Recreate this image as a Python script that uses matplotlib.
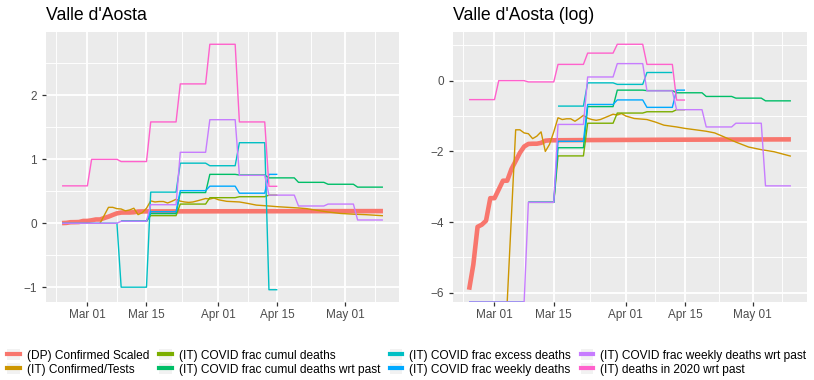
import matplotlib
matplotlib.use('Agg')
import matplotlib.pyplot as plt
import matplotlib.dates as mdates
from matplotlib.lines import Line2D
from matplotlib.patches import Patch
from matplotlib.legend_handler import HandlerTuple
from matplotlib.ticker import MultipleLocator, FixedLocator
import numpy as np
import pandas as pd

plt.rcParams['font.family'] = ['Liberation Sans', 'DejaVu Sans']

labels = ['(DP) Confirmed Scaled', '(IT) Confirmed/Tests',
          '(IT) COVID frac cumul deaths', '(IT) COVID frac cumul deaths wrt past',
          '(IT) COVID frac excess deaths', '(IT) COVID frac weekly deaths',
          '(IT) COVID frac weekly deaths wrt past', '(IT) deaths in 2020 wrt past']
colors = ['#F8766D', '#CD9600', '#7CAE00', '#00BE67',
          '#00BFC4', '#00A9FF', '#C77CFF', '#FF61CC']

# daily series
dp_dates = ['2020-02-24', '2020-02-25', '2020-02-26', '2020-02-27', '2020-02-28',
            '2020-02-29', '2020-03-01', '2020-03-02', '2020-03-03', '2020-03-04',
            '2020-03-05', '2020-03-06', '2020-03-07', '2020-03-08', '2020-03-09',
            '2020-03-10', '2020-03-11', '2020-03-12', '2020-03-13', '2020-03-14',
            '2020-03-21', '2020-04-10', '2020-05-10']
dp_vals = [0.0027, 0.0055, 0.016, 0.017, 0.019, 0.036, 0.036, 0.046, 0.059, 0.059,
           0.082, 0.103, 0.13, 0.155, 0.167, 0.168, 0.168, 0.172, 0.183, 0.185,
           0.186, 0.188, 0.190]

ct_dates = ['2020-03-04', '2020-03-06', '2020-03-07', '2020-03-08', '2020-03-09',
            '2020-03-10', '2020-03-11', '2020-03-12', '2020-03-13', '2020-03-14',
            '2020-03-15', '2020-03-16', '2020-03-17', '2020-03-18', '2020-03-19',
            '2020-03-20', '2020-03-21', '2020-03-22', '2020-03-23', '2020-03-24',
            '2020-03-25', '2020-03-26', '2020-03-27', '2020-03-28', '2020-03-29',
            '2020-03-30', '2020-03-31', '2020-04-01', '2020-04-03', '2020-04-06',
            '2020-04-08', '2020-04-10', '2020-04-13', '2020-04-15', '2020-04-18',
            '2020-04-20', '2020-04-22', '2020-04-24', '2020-04-27', '2020-04-30',
            '2020-05-03', '2020-05-06', '2020-05-10']
ct_vals = [0.0, 0.249, 0.249, 0.228, 0.223, 0.194, 0.208, 0.235, 0.135, 0.165,
           0.235, 0.350, 0.333, 0.340, 0.340, 0.317, 0.343, 0.375, 0.346, 0.333,
           0.326, 0.333, 0.350, 0.368, 0.387, 0.379, 0.395, 0.368, 0.343, 0.333,
           0.310, 0.284, 0.270, 0.259, 0.247, 0.239, 0.228, 0.206, 0.176, 0.153,
           0.142, 0.134, 0.118]

# weekly series (one value per week, weeks start on Monday)
week_starts = pd.to_datetime(['2020-02-24', '2020-03-02', '2020-03-09', '2020-03-16',
                              '2020-03-23', '2020-03-30', '2020-04-06', '2020-04-13',
                              '2020-04-20', '2020-04-27', '2020-05-04'])
end_short = pd.Timestamp('2020-04-15')
end_long = pd.Timestamp('2020-05-10')
nan = np.nan

frac_cumul = [nan, nan, 0.032, 0.119, 0.30, 0.40, 0.415, 0.44]
frac_cumul_past = [nan, nan, 0.032, 0.15, 0.48, 0.765, 0.755, 0.71, 0.64, 0.61, 0.565]
frac_excess = [0.0, 0.0, -1.0, 0.487, 0.94, 0.90, 1.26, -1.04]
frac_weekly = [nan, nan, 0.032, 0.18, 0.51, 0.58, 0.47, 0.765]
frac_weekly_past = [0.0, 0.0, 0.032, 0.29, 1.11, 1.62, 0.75, 0.44, 0.27, 0.30, 0.051]
deaths_2020_past = [0.585, 1.0, 0.965, 1.585, 2.18, 2.80, 1.585, 0.578]


def weekly_path(vals, end):
    xs, ys = [], []
    for start, v in zip(week_starts, vals):
        stop = min(start + pd.Timedelta(days=6), end)
        xs += [start, stop]
        ys += [v, v]
    return pd.to_datetime(xs), np.array(ys, float)


series = [
    (pd.to_datetime(dp_dates), np.array(dp_vals)),
    (pd.to_datetime(ct_dates), np.array(ct_vals)),
    weekly_path(frac_cumul, end_short),
    weekly_path(frac_cumul_past, end_long),
    weekly_path(frac_excess, end_short),
    weekly_path(frac_weekly, end_short),
    weekly_path(frac_weekly_past, end_long),
    weekly_path(deaths_2020_past, end_short),
]

fig = plt.figure(figsize=(8.14, 3.8), dpi=100)
ax1 = fig.add_axes([46 / 814, 78 / 380, 353 / 814, 270 / 380])
ax2 = fig.add_axes([453 / 814, 78 / 380, 354 / 814, 270 / 380])

x0 = pd.Timestamp('2020-02-24')
x1 = end_long
xpad = (x1 - x0) * 0.05
majors = pd.to_datetime(['2020-02-15', '2020-03-01', '2020-03-15', '2020-04-01',
                         '2020-04-15', '2020-05-01', '2020-05-15'])
minors = majors[:-1] + (majors[1:] - majors[:-1]) / 2


def draw(ax, log, title, major_step):
    ys_all = []
    for x, y in series:
        if log:
            with np.errstate(divide='ignore', invalid='ignore'):
                y = np.log(y)
        ys_all.append(y)
    finite = np.concatenate([y[np.isfinite(y)] for y in ys_all])
    lo, hi = finite.min(), finite.max()
    pad = (hi - lo) * 0.05
    lo, hi = lo - pad, hi + pad
    for i, ((x, _), y) in enumerate(zip(series, ys_all)):
        # -Inf (log of 0) sits on the panel edge, as ggplot does
        y = np.where(np.isneginf(y), lo, y)
        ax.plot(x, y, color=colors[i], lw=3.3 if i == 0 else 1.0,
                solid_capstyle='butt', zorder=3 + i)
    ax.set_ylim(lo, hi)
    ax.set_xlim(x0 - xpad, x1 + xpad)
    ax.set_facecolor('#EBEBEB')
    for s in ax.spines.values():
        s.set_visible(False)
    ax.xaxis.set_major_locator(mdates.DayLocator(bymonthday=[1, 15]))
    ax.xaxis.set_major_formatter(mdates.DateFormatter('%b %d'))
    ax.xaxis.set_minor_locator(FixedLocator(mdates.date2num(minors)))
    ax.yaxis.set_major_locator(MultipleLocator(major_step))
    ax.yaxis.set_minor_locator(MultipleLocator(major_step / 2))
    ax.grid(which='major', color='white', lw=1.3)
    ax.grid(which='minor', color='white', lw=0.65)
    ax.set_axisbelow(True)
    ax.tick_params(which='major', length=2.7, width=0.9, color='#333333',
                   labelsize=8.45, labelcolor='#4D4D4D')
    ax.tick_params(axis='y', pad=4.0)
    ax.tick_params(axis='x', pad=2.5)
    ax.tick_params(which='minor', length=0)
    ax.set_title(title, loc='left', fontsize=12.7, pad=8.6)


draw(ax1, False, "Valle d'Aosta", 1)
draw(ax2, True, "Valle d'Aosta (log)", 2)

handles = [(Patch(facecolor='#F2F2F2', edgecolor='none'),
            Line2D([], [], color=c, lw=3)) for c in colors]
fig.legend(handles, labels, loc='center', bbox_to_anchor=(0.5, 17.5 / 380), ncol=4,
           frameon=False, fontsize=8.6, handlelength=1.05, handleheight=1.0,
           handletextpad=0.6, columnspacing=0.8, labelspacing=0.1, borderpad=0,
           handler_map={tuple: HandlerTuple(ndivide=1)})

fig.savefig('out.png', dpi=100)
